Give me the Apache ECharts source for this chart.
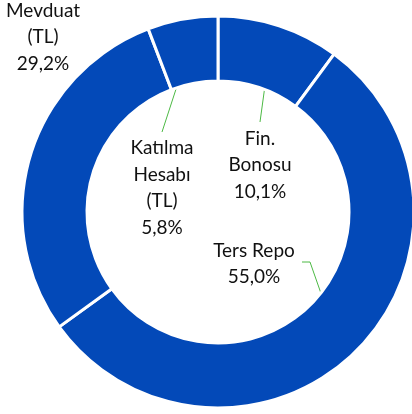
<!DOCTYPE html>
<html>
<head>
<meta charset="utf-8">
<script src="https://cdn.jsdelivr.net/npm/echarts@6/dist/echarts.min.js"></script>
<style>
  html, body { margin: 0; padding: 0; background: #fff; }
  #chart1 { width: 412px; height: 414px; }
</style>
</head>
<body>
<div id="chart1"></div>
<script>
// clockwise from 12 o'clock
let names = ['Fin.\nBonosu', 'Ters Repo', 'Mevduat\n(TL)', 'Katılma\nHesabı\n(TL)'];
let values = [10.1, 55.0, 29.2, 5.8];

// where each label block sits (center)
let labelX = [260, 254, 43, 162];
let labelY = [165, 264, 37, 188];

let cx = 218, cy = 212, rIn = 131, rOut = 196;
let rMid = (rIn + rOut) / 2;
let total = values.reduce(function (a, b) { return a + b; }, 0);

// middle of slice i, halfway through the ring
function sliceMid(i) {
    let before = 0;
    for (let k = 0; k < i; k++) before += values[k];
    let t = (before + values[i] / 2) / total * Math.PI * 2;
    return [cx + rMid * Math.sin(t), cy - rMid * Math.cos(t)];
}

let dom1 = document.getElementById("chart1");
let Chart1 = echarts.init(dom1);

let data = names.map(function (n, i) { return { name: n, value: values[i] }; });

let option1 = {
    animation: false,
    color: ['#0349B8'],
    series: [
        {
            type: 'pie',
            center: [cx, cy],
            radius: [rIn, rOut],
            startAngle: 90,
            clockwise: true,
            avoidLabelOverlap: false,
            itemStyle: {
                color: '#0349B8',
                borderColor: '#fff',
                borderWidth: 3
            },
            label: {
                show: true,
                position: 'outside',
                overflow: 'none',
                color: '#111',
                fontFamily: 'Lato',
                fontSize: 19,
                lineHeight: 26.5,
                align: 'center',
                formatter: function (p) {
                    return p.name + '\n' + p.value.toFixed(1).replace('.', ',') + '%';
                }
            },
            labelLine: {
                show: true,
                lineStyle: { color: '#4CB944', width: 1 }
            },
            labelLayout: function (p) {
                let i = p.dataIndex;
                let out = {
                    x: labelX[i],
                    y: labelY[i],
                    align: 'center',
                    verticalAlign: 'middle'
                };
                let s = sliceMid(i);
                if (i === 0) {
                    out.labelLinePoints = [s, [260, 122]];
                } else if (i === 1) {
                    out.labelLinePoints = [s, [310, 262], [302, 262]];
                } else if (i === 3) {
                    out.labelLinePoints = [s, [162, 132]];
                } else {
                    out.labelLinePoints = [s, s];
                }
                return out;
            },
            data: data
        }
    ]
};

Chart1.setOption(option1);
</script>
</body>
</html>
